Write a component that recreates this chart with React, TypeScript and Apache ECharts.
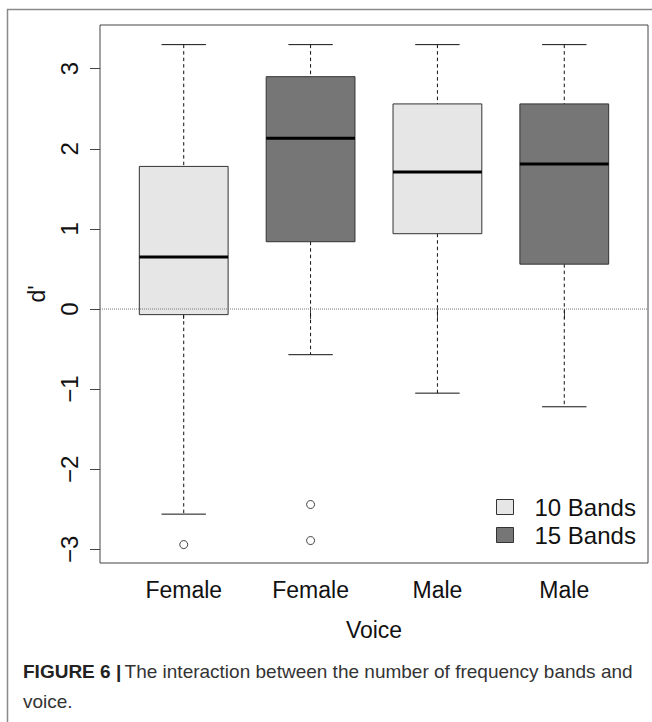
import React, { useEffect, useRef } from "react";
import * as echarts from "echarts";

const categories = ["Female", "Female", "Male", "Male"];
const groups = ["10 Bands", "15 Bands", "10 Bands", "15 Bands"];
const whiskerHigh = [3.3, 3.3, 3.3, 3.3];
const upperQuartile = [1.78, 2.9, 2.56, 2.56];
const medians = [0.65, 2.13, 1.71, 1.81];
const lowerQuartile = [-0.07, 0.84, 0.94, 0.56];
const whiskerLow = [-2.56, -0.57, -1.05, -1.22];
const outlierBox = [1, 2, 2];
const outlierValues = [-2.94, -2.44, -2.89];
const yTicks = [-3, -2, -1, 0, 1, 2, 3];
const groupNames = ["10 Bands", "15 Bands"];
const groupFills = ["#e6e6e6", "#767676"];

const FONT = "'Liberation Sans', Arial, Helvetica, sans-serif";

export default function App() {
  const ref = useRef<HTMLDivElement>(null);
  useEffect(() => {
    if (!ref.current) return;
    const chart = echarts.init(ref.current, undefined, { renderer: "svg" });

    const boxSeries = groupNames.map((g, gi) => {
      const data: number[][] = [];
      categories.forEach((_, i) => {
        if (groups[i] === g) {
          data.push([i + 1, whiskerLow[i], lowerQuartile[i], medians[i], upperQuartile[i], whiskerHigh[i]]);
        }
      });
      const fill = groupFills[gi];
      return {
        name: g,
        type: "custom",
        itemStyle: { color: fill, borderColor: "#333", borderWidth: 1 },
        encode: { x: 0, y: [1, 2, 3, 4, 5] },
        data,
        z: 3,
        renderItem: (params: any, api: any) => {
          const x = api.value(0);
          const lo = api.coord([x, api.value(1)]);
          const q1 = api.coord([x, api.value(2)]);
          const md = api.coord([x, api.value(3)]);
          const q3 = api.coord([x, api.value(4)]);
          const hi = api.coord([x, api.value(5)]);
          const bw = api.size([0.7, 0])[0];
          const cx = q1[0];
          const cap = bw / 4;
          const dash = { stroke: "#111", lineWidth: 1, lineDash: [3.5, 3] };
          const solid = { stroke: "#111", lineWidth: 1 };
          return {
            type: "group",
            children: [
              { type: "line", shape: { x1: cx, y1: hi[1], x2: cx, y2: q3[1] }, style: dash },
              { type: "line", shape: { x1: cx, y1: q1[1], x2: cx, y2: lo[1] }, style: dash },
              { type: "line", shape: { x1: cx - cap, y1: hi[1], x2: cx + cap, y2: hi[1] }, style: solid },
              { type: "line", shape: { x1: cx - cap, y1: lo[1], x2: cx + cap, y2: lo[1] }, style: solid },
              {
                type: "rect",
                shape: { x: cx - bw / 2, y: q3[1], width: bw, height: q1[1] - q3[1] },
                style: { fill, stroke: "#333", lineWidth: 1 },
              },
              { type: "line", shape: { x1: cx - bw / 2, y1: md[1], x2: cx + bw / 2, y2: md[1] }, style: { stroke: "#000", lineWidth: 3 } },
            ],
          };
        },
      };
    });

    const option: any = {
      animation: false,
      backgroundColor: "#fff",
      textStyle: { fontFamily: FONT },
      grid: { left: 100, top: 25, width: 548, height: 538, show: true, borderColor: "#444", borderWidth: 1, backgroundColor: "transparent" },
      xAxis: {
        type: "value",
        min: 0.34,
        max: 4.66,
        name: "Voice",
        nameLocation: "middle",
        nameGap: 55,
        nameTextStyle: { fontSize: 23, color: "#111", fontFamily: FONT },
        axisLine: { show: false },
        splitLine: { show: false },
        axisTick: { show: true, customValues: [1, 2, 3, 4], length: 10, lineStyle: { color: "#444" } },
        axisLabel: {
          customValues: [1, 2, 3, 4],
          formatter: (v: number) => categories[Math.round(v) - 1] ?? "",
          fontSize: 23,
          color: "#111",
          margin: 15,
          fontFamily: FONT,
        },
      },
      yAxis: {
        type: "value",
        min: -3.17,
        max: 3.545,
        name: "d'",
        nameLocation: "middle",
        nameRotate: 90,
        nameGap: 52,
        nameTextStyle: { fontSize: 23, color: "#111", fontFamily: FONT },
        axisLine: { show: false },
        splitLine: { show: false },
        axisTick: { show: true, customValues: yTicks, length: 10, lineStyle: { color: "#444" } },
        axisLabel: {
          customValues: yTicks,
          formatter: (v: number) => (v < 0 ? "\u2212" + Math.abs(v) : String(v)),
          rotate: 90,
          fontSize: 24,
          color: "#111",
          margin: 19,
          fontFamily: FONT,
        },
      },
      legend: {
        orient: "vertical",
        left: 491,
        top: 490,
        icon: "rect",
        itemWidth: 17,
        itemHeight: 15,
        itemGap: 4,
        data: groupNames.map((g, i) => ({ name: g, itemStyle: { color: groupFills[i], borderColor: "#333", borderWidth: 1 } })),
        textStyle: { fontSize: 24, color: "#111", fontFamily: FONT, padding: [0, 0, 0, 16] },
      },
      graphic: [
        {
          type: "rect",
          shape: { x: 7.5, y: 9.5, width: 700, height: 800 },
          style: { fill: "none", stroke: "#8a8a8a", lineWidth: 1.5 },
          silent: true,
          z: -1,
        },
        {
          type: "text",
          left: 23,
          top: 662,
          style: {
            text: "{b|FIGURE 6 |} {n|The interaction between the number of frequency bands and}\n{n|voice.}",
            rich: {
              b: { fontSize: 19, fontWeight: "bold", fill: "#222", fontFamily: FONT, lineHeight: 30 },
              n: { fontSize: 19, fill: "#333", fontFamily: FONT, lineHeight: 30 },
            },
          },
        },
      ],
      series: [
        ...boxSeries,
        {
          name: "outliers",
          type: "scatter",
          symbol: "circle",
          symbolSize: 8,
          itemStyle: { color: "#fff", borderColor: "#111", borderWidth: 1 },
          data: outlierBox.map((b, i) => [b, outlierValues[i]]),
          z: 4,
        },
        {
          name: "zero",
          type: "line",
          symbol: "none",
          silent: true,
          lineStyle: { type: "dotted", color: "#777", width: 1 },
          data: [[0.34, 0], [4.66, 0]],
          z: 5,
        },
      ],
    };
    chart.setOption(option);
    return () => chart.dispose();
  }, []);
  return <div ref={ref} style={{ position: "fixed", left: 0, top: 0, width: 652, height: 722 }} />;
}
